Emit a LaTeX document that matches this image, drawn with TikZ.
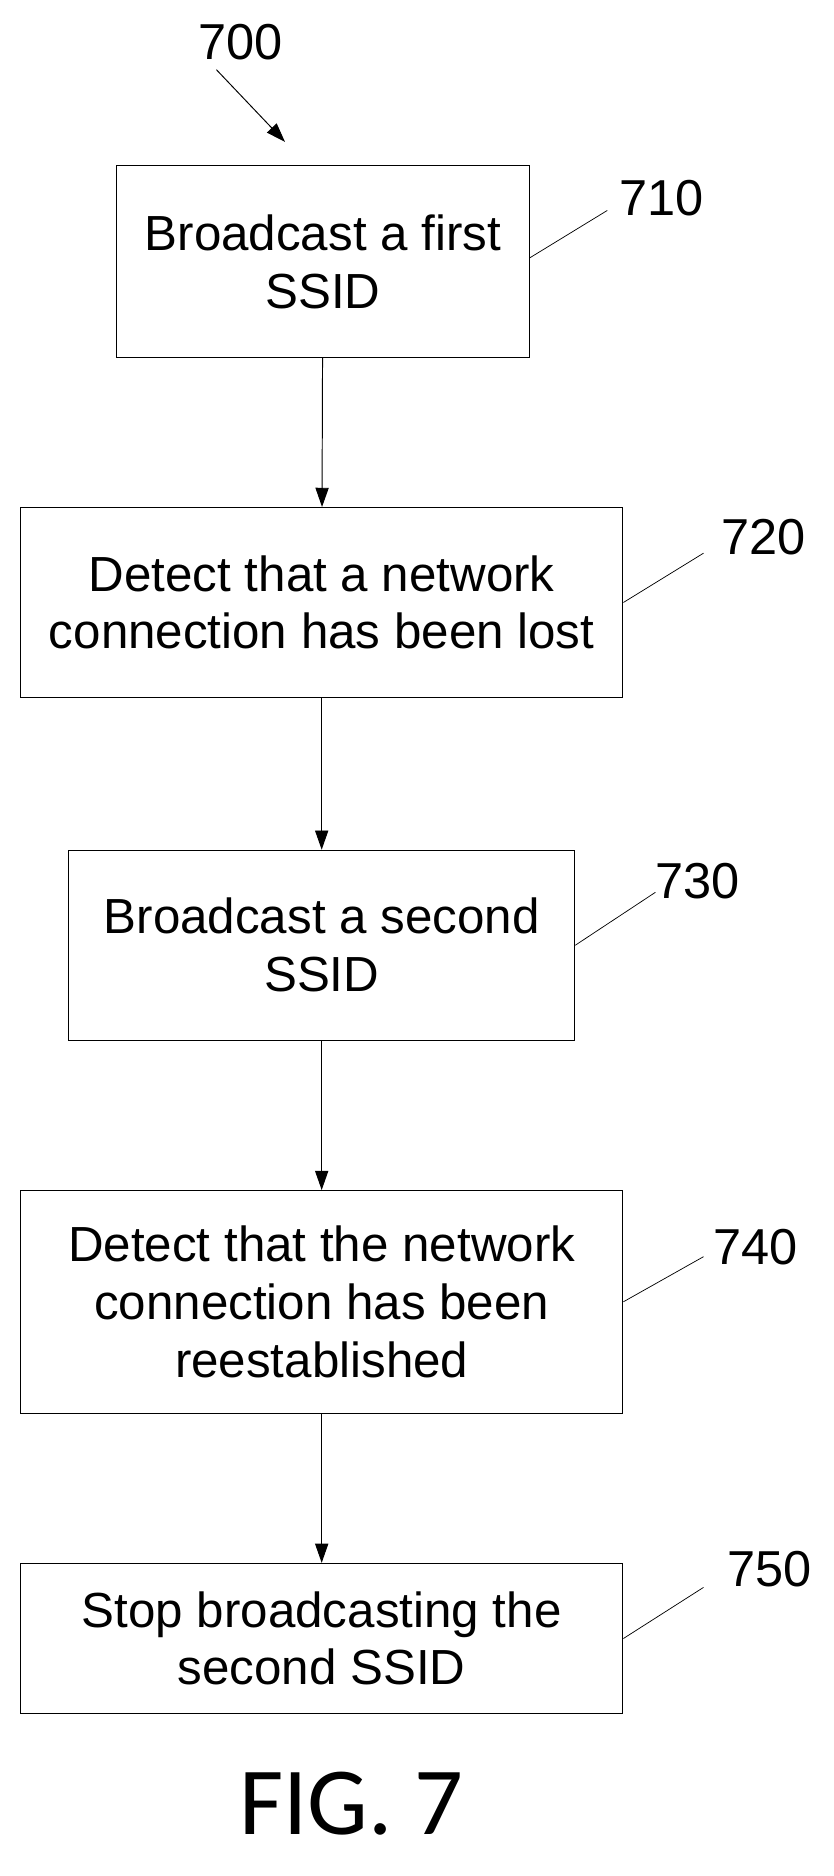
\documentclass[tikz,border=0pt]{standalone}
\usepackage{fontspec}
\setmainfont{Liberation Sans}
\newfontfamily\figfont{Carlito}
\usetikzlibrary{arrows.meta}
\begin{document}
\begin{tikzpicture}[x=1pt,y=-1pt,
  box/.style={draw,line width=0.8pt,align=center,font=\fontsize{41}{48}\selectfont,inner sep=0pt},
  lbl/.style={font=\fontsize{42}{44}\selectfont},
  arr/.style={-{Triangle[length=16pt,width=11pt]},line width=0.8pt},
  lead/.style={line width=0.6pt}]
\useasboundingbox (0,0) rectangle (693,1560);
\node[box,minimum width=343pt,minimum height=159pt] (b1) at (268.5,217.5) {Broadcast a first\\SSID};
\node[box,minimum width=501pt,minimum height=158pt] (b2) at (267.5,501) {Detect that a network\\connection has been lost};
\node[box,minimum width=421pt,minimum height=158pt] (b3) at (267.5,786) {Broadcast a second\\SSID};
\node[box,minimum width=501pt,minimum height=185pt] (b4) at (267.5,1082.5) {Detect that the network\\connection has been\\reestablished};
\node[box,minimum width=501pt,minimum height=125pt] (b5) at (267.5,1362.5) {Stop broadcasting the\\second SSID};
\node[lbl] (l700) at (200,35) {700};
\node[lbl] (l710) at (550,165) {710};
\node[lbl] (l720) at (635,447) {720};
\node[lbl] (l730) at (580,733) {730};
\node[lbl] (l740) at (628,1037) {740};
\node[lbl] (l750) at (640,1305) {750};
\node[font=\figfont\fontsize{80}{82}\selectfont] (fig) at (292,1500) {FIG. 7};
\coordinate (s700) at (180,58);
\coordinate (e700) at (237,118);
\draw[arr] (s700) -- (e700);
\draw[arr] (b1) -- (b2);
\draw[arr] (b2) -- (b3);
\draw[arr] (b3) -- (b4);
\draw[arr] (b4) -- (b5);
\coordinate (t710) at (505,175);
\coordinate (t720) at (585,460);
\coordinate (t730) at (545,742);
\coordinate (t740) at (585,1045);
\coordinate (t750) at (585,1320);
\draw[lead] (b1.east) ++(0,-3) -- (t710);
\draw[lead] (b2.east) -- (t720);
\draw[lead] (b3.east) -- (t730);
\draw[lead] (b4.east) -- (t740);
\draw[lead] (b5.east) -- (t750);
\end{tikzpicture}
\end{document}
